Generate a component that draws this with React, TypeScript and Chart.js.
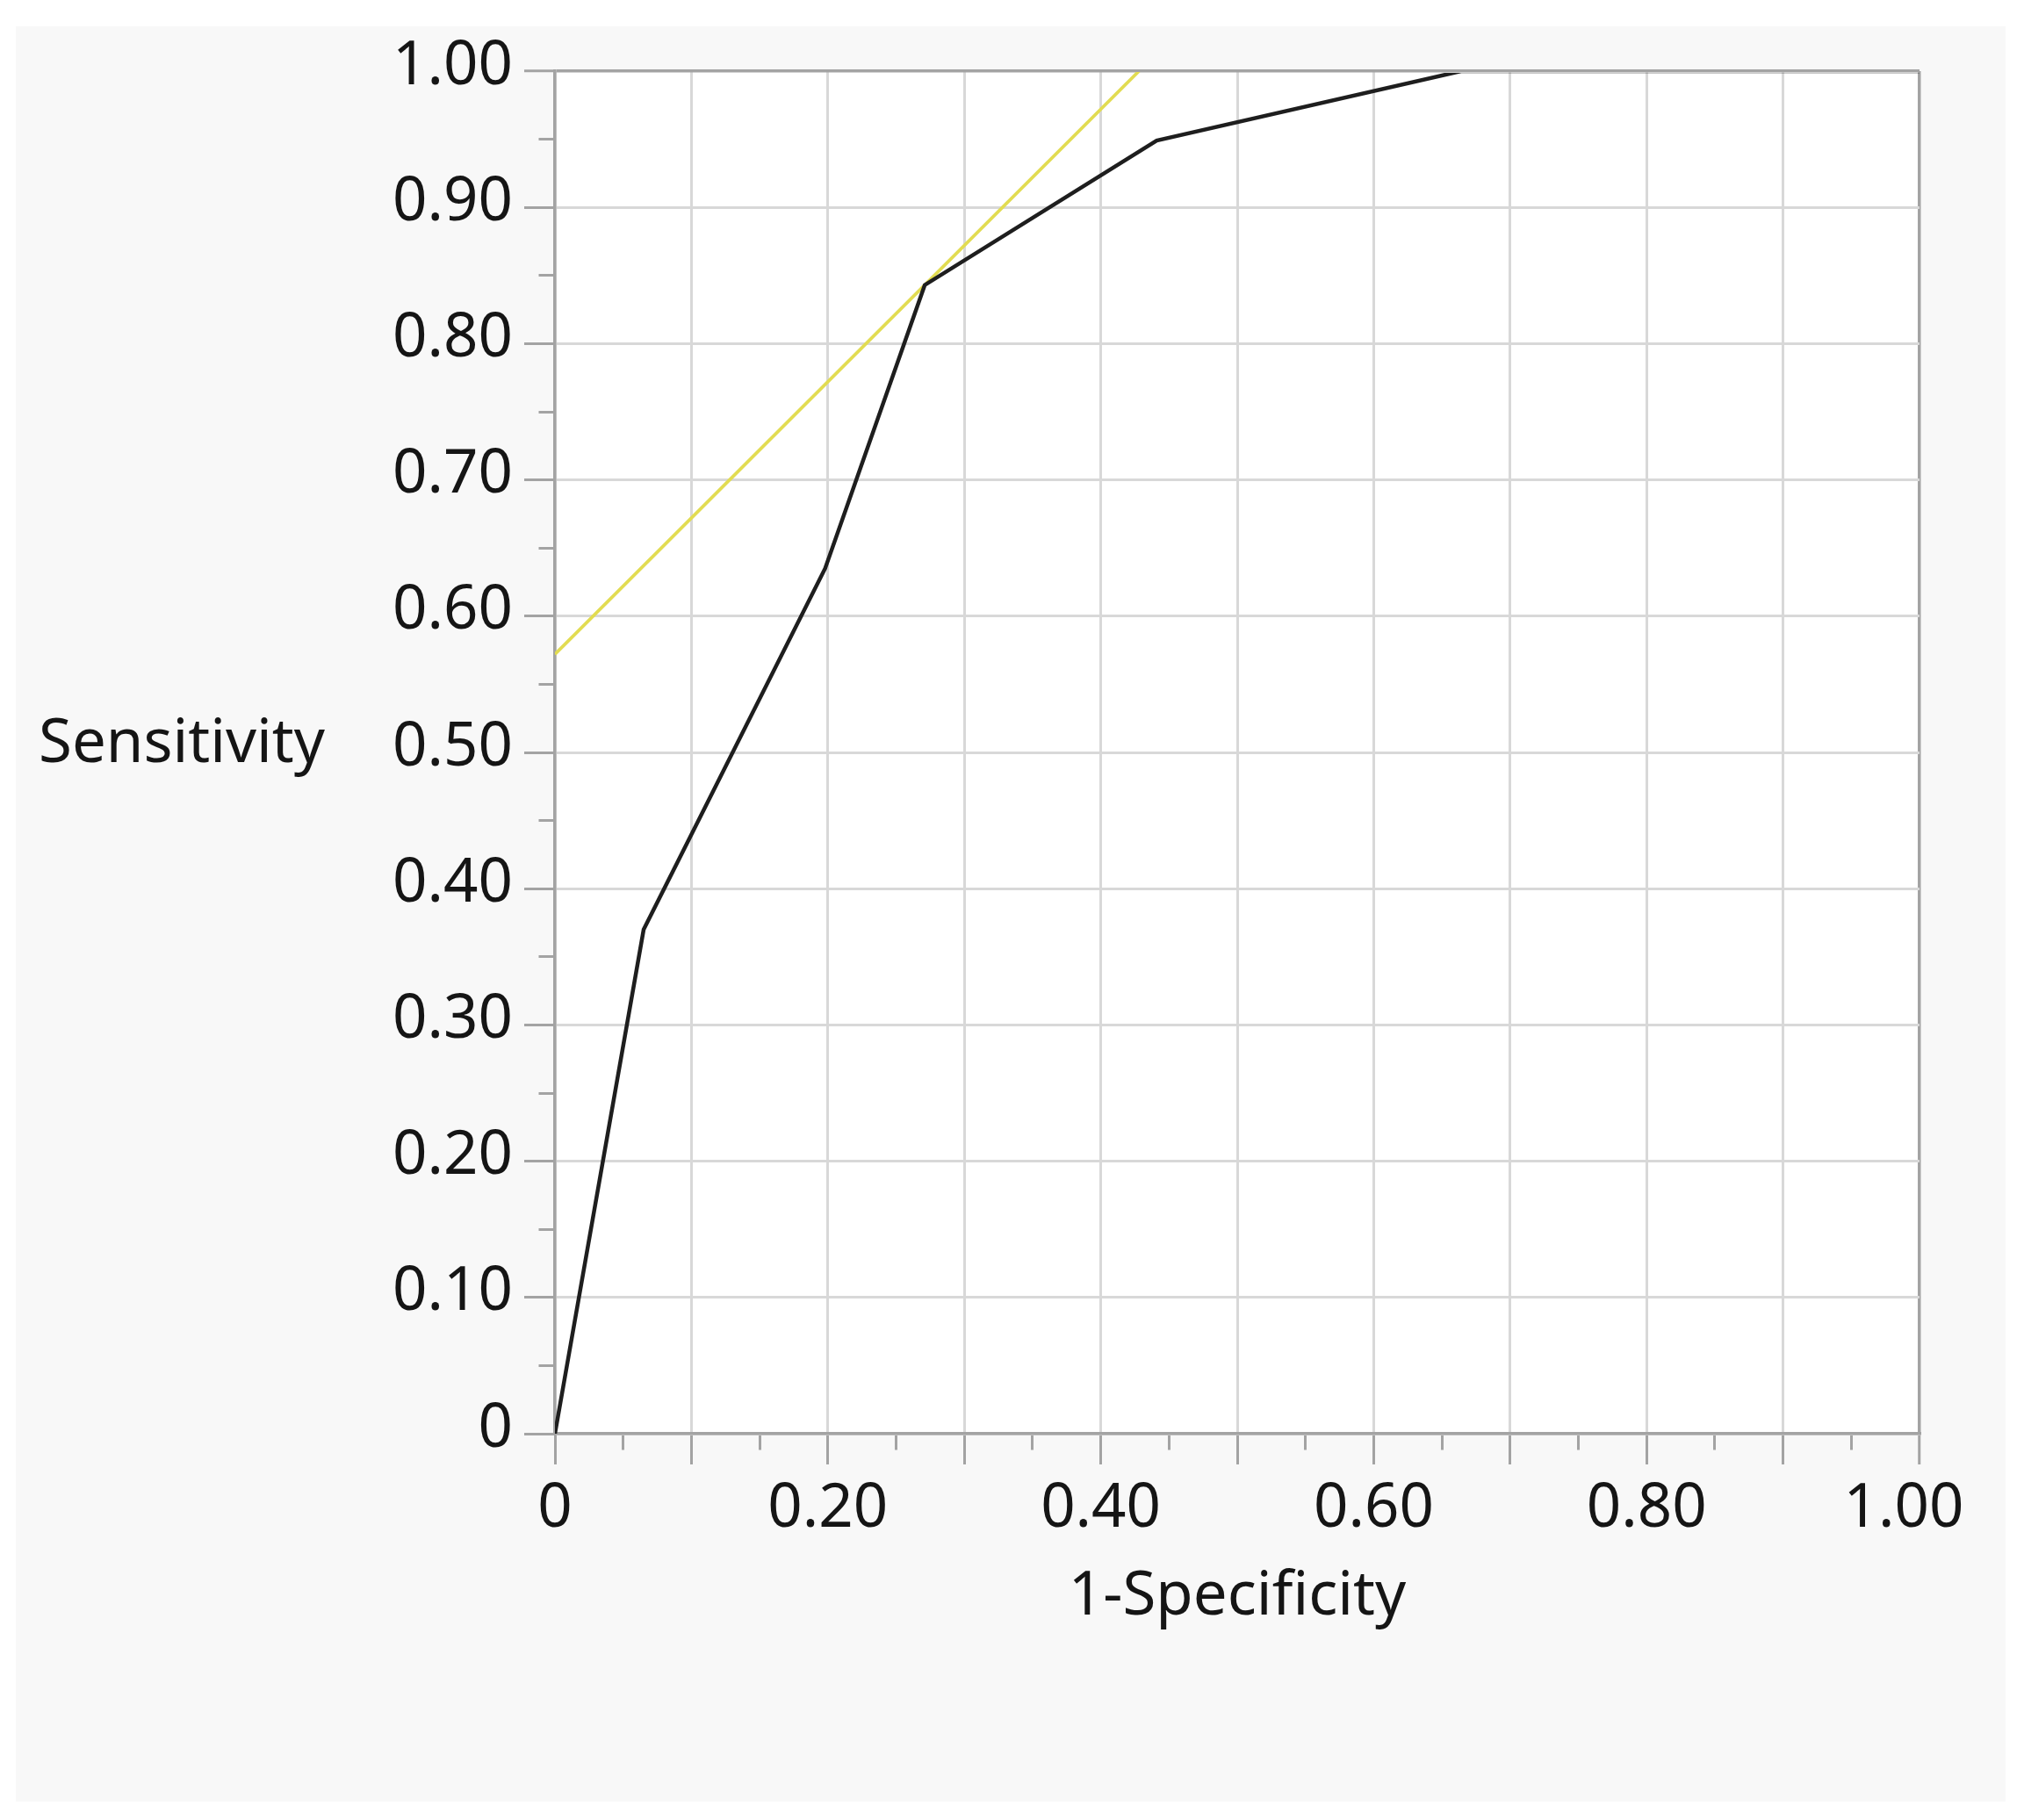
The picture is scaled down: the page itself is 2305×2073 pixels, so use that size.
import React, { useEffect, useRef } from 'react';
import { Chart, registerables } from 'chart.js';

Chart.register(...registerables);

// ---- data ----
const rocFpr = [0, 0.065, 0.198, 0.271, 0.441, 0.664, 1.0];
const rocSens = [0, 0.37, 0.635, 0.843, 0.949, 1.0, 1.0];
const tangentFpr = [0, 0.428];
const tangentSens = [0.572, 1.0];
const xTickLabels = ['0', '0.20', '0.40', '0.60', '0.80', '1.00'];
const yTickLabels = ['0', '0.10', '0.20', '0.30', '0.40', '0.50', '0.60', '0.70', '0.80', '0.90', '1.00'];
const xTitle = '1-Specificity';
const yTitle = 'Sensitivity';

// ---- style ----
const W = 2305;
const H = 2073;
const FONT_FAMILY = '"Noto Sans", sans-serif';
const FONT_SIZE = 69;
const TEXT_COLOR = '#151515';
const GRID_COLOR = '#d8d8d8';
const AXIS_COLOR = '#a3a3a3';
const PANEL_COLOR = '#f8f8f8';

const isMajor = (v: number) => Math.round(v * 100) % 10 === 0;

const panelPlugin = {
  id: 'panelBg',
  beforeDraw(chart: any) {
    const { ctx, chartArea } = chart;
    ctx.save();
    ctx.fillStyle = '#ffffff';
    ctx.fillRect(0, 0, W, H);
    ctx.fillStyle = PANEL_COLOR;
    ctx.fillRect(18, 30, 2266, 2022);
    ctx.fillStyle = '#ffffff';
    ctx.fillRect(chartArea.left, chartArea.top, chartArea.right - chartArea.left, chartArea.bottom - chartArea.top);
    ctx.restore();
  },
  afterDraw(chart: any) {
    const { ctx } = chart;
    ctx.save();
    ctx.font = `${FONT_SIZE}px ${FONT_FAMILY}`;
    ctx.fillStyle = TEXT_COLOR;
    ctx.textAlign = 'left';
    ctx.textBaseline = 'alphabetic';
    ctx.fillText(yTitle, 44, 868);
    ctx.restore();
  },
};

export default function App() {
  const ref = useRef<HTMLCanvasElement | null>(null);

  useEffect(() => {
    if (!ref.current) return;
    const font = { family: FONT_FAMILY, size: FONT_SIZE };
    const chart = new Chart(ref.current, {
      type: 'scatter',
      data: {
        datasets: [
          {
            label: 'ROC',
            data: rocFpr.map((x, i) => ({ x, y: rocSens[i] })),
            showLine: true,
            borderColor: '#1e1e1e',
            borderWidth: 4.5,
            pointRadius: 0,
            fill: false,
            tension: 0,
            clip: { left: 0, top: -2, right: 0, bottom: 0 },
          },
          {
            label: 'Tangent',
            data: tangentFpr.map((x, i) => ({ x, y: tangentSens[i] })),
            showLine: true,
            borderColor: '#e2dc52',
            borderWidth: 3.8,
            pointRadius: 0,
            fill: false,
            tension: 0,
            clip: { left: 0, top: -1, right: 0, bottom: 0 },
          },
        ],
      },
      options: {
        animation: false,
        responsive: false,
        devicePixelRatio: 1,
        layout: { padding: { left: 0, top: 81, right: 119, bottom: 0 } },
        plugins: {
          legend: { display: false },
          tooltip: { enabled: false },
        },
        scales: {
          x: {
            type: 'linear',
            position: 'bottom',
            min: 0,
            max: 1,
            afterFit: (s: any) => {
              s.height = 440;
            },
            border: { display: true, color: AXIS_COLOR, width: 3.5 },
            grid: {
              color: (c: any) => {
                const v = c.tick ? c.tick.value : 0;
                if (!isMajor(v)) return 'rgba(0,0,0,0)';
                return v > 0.999 ? AXIS_COLOR : GRID_COLOR;
              },
              lineWidth: (c: any) => (c.tick && c.tick.value > 0.999 ? 3.5 : 3),
              drawTicks: true,
              tickLength: 35,
              tickColor: AXIS_COLOR,
              tickWidth: 3,
              tickBorderDash: (c: any) => (c.tick && isMajor(c.tick.value) ? [] : [17, 60]),
            },
            ticks: {
              stepSize: 0.05,
              autoSkip: false,
              maxTicksLimit: 100,
              maxRotation: 0,
              minRotation: 0,
              padding: 10,
              font,
              color: TEXT_COLOR,
              callback: (v: any) => {
                const k = Math.round(Number(v) * 100);
                if (k % 20 !== 0) return '';
                const lab = xTickLabels[k / 20];
                return k === 100 ? lab + '  ' : lab;
              },
            },
            title: {
              display: true,
              text: xTitle,
              font,
              color: TEXT_COLOR,
              padding: { top: 0, bottom: 212 },
            },
          },
          y: {
            type: 'linear',
            position: 'left',
            min: 0,
            max: 1,
            afterFit: (s: any) => {
              s.width = 632;
            },
            border: { display: true, color: AXIS_COLOR, width: 3.5 },
            grid: {
              color: (c: any) => {
                const v = c.tick ? c.tick.value : 0;
                if (!isMajor(v)) return 'rgba(0,0,0,0)';
                return v > 0.999 ? AXIS_COLOR : GRID_COLOR;
              },
              lineWidth: (c: any) => (c.tick && c.tick.value > 0.999 ? 3.5 : 3),
              drawTicks: true,
              tickLength: 35,
              tickColor: AXIS_COLOR,
              tickWidth: 3,
              tickBorderDash: (c: any) => (c.tick && isMajor(c.tick.value) ? [] : [17, 16.5]),
              tickBorderDashOffset: (c: any) => (c.tick && isMajor(c.tick.value) ? 0 : 17),
            },
            ticks: {
              stepSize: 0.05,
              autoSkip: false,
              maxTicksLimit: 100,
              padding: 13,
              labelOffset: -5,
              font,
              color: TEXT_COLOR,
              callback: (v: any) => {
                const k = Math.round(Number(v) * 100);
                if (k % 10 !== 0) return '';
                return yTickLabels[k / 10];
              },
            },
          },
        },
      },
      plugins: [panelPlugin],
    } as any);
    return () => chart.destroy();
  }, []);

  return (
    <div style={{ position: 'absolute', left: 0, top: 0, width: W, height: H, background: '#ffffff' }}>
      <canvas ref={ref} width={W} height={H} style={{ display: 'block', width: W, height: H }} />
    </div>
  );
}
